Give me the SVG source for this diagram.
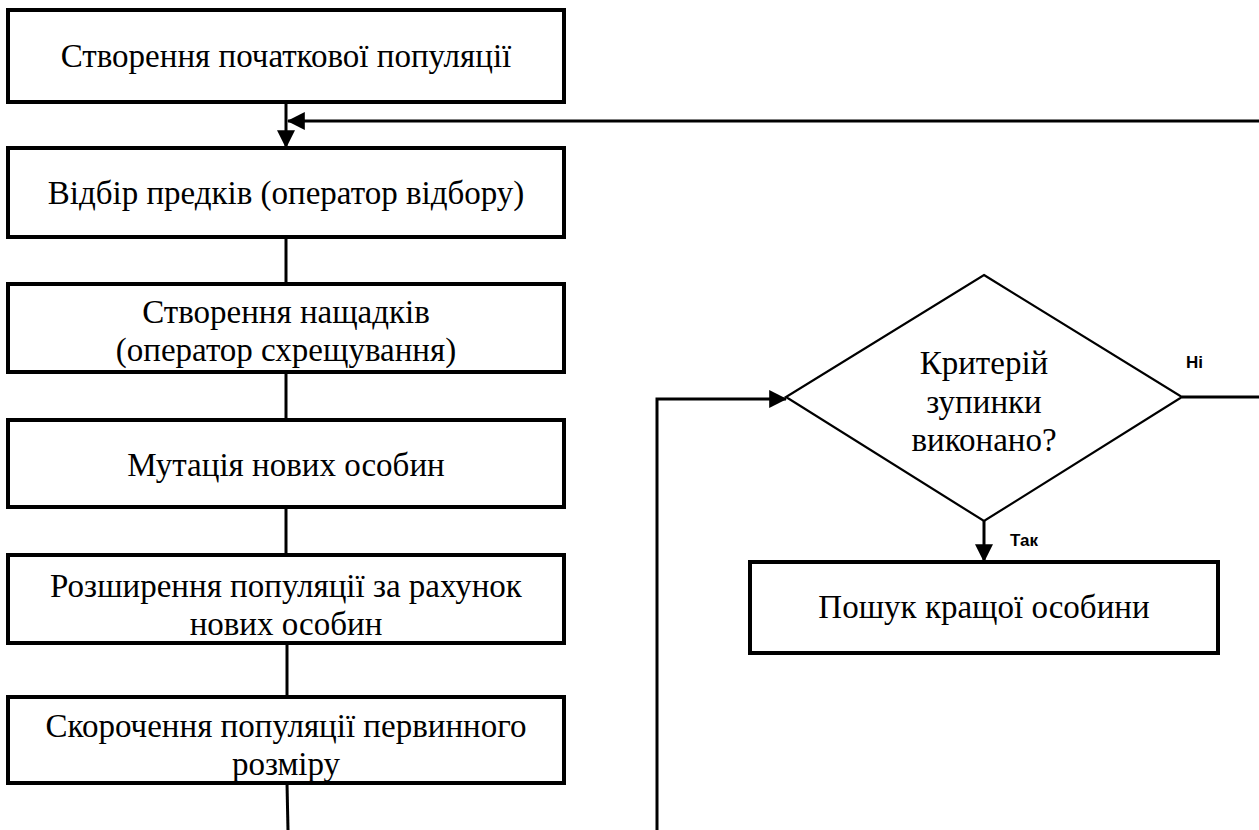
<svg xmlns="http://www.w3.org/2000/svg" width="1259" height="830" viewBox="0 0 1259 830">
<style>
.box{fill:#fff;stroke:#000;stroke-width:4}
.dia{fill:#fff;stroke:#000;stroke-width:2.2}
.t{font-family:"Liberation Serif","Times New Roman",serif;font-size:33px;fill:#000;text-anchor:middle}
.lbl{font-family:"Liberation Sans",Arial,sans-serif;font-size:17px;font-weight:bold;fill:#000}
.ln{fill:none;stroke:#000;stroke-width:3}
</style>
<defs>
<marker id="ah" markerWidth="6" markerHeight="6" refX="5.6" refY="3" orient="auto" markerUnits="strokeWidth" viewBox="0 0 6 6">
<path d="M0,0 L6,3 L0,6 Z" fill="#000"/>
</marker>
</defs>
<g id="connectors">
<line class="ln" x1="286" y1="102" x2="286" y2="147" marker-end="url(#ah)"/>
<line class="ln" x1="1262" y1="121" x2="288" y2="121" marker-end="url(#ah)"/>
<line class="ln" x1="286" y1="237" x2="286" y2="284"/>
<line class="ln" x1="286" y1="372" x2="286" y2="420"/>
<line class="ln" x1="286" y1="507" x2="286" y2="555"/>
<line class="ln" x1="287" y1="643" x2="287" y2="697"/>
<line class="ln" x1="287" y1="783" x2="288" y2="830"/>
<polyline class="ln" points="657,830 657,399 786,399" marker-end="url(#ah)"/>
<line class="ln" x1="1182" y1="397" x2="1262" y2="397"/>
<line class="ln" x1="984" y1="521" x2="984" y2="561" marker-end="url(#ah)"/>
<text class="lbl" x="1186" y="368">Ні</text>
<text class="lbl" x="1010" y="546">Так</text>
</g>
<g id="n1"><rect class="box" x="8" y="10" width="556" height="92"/><text class="t" x="286" y="67">Створення початкової популяції</text></g>
<g id="n2"><rect class="box" x="8" y="148" width="556" height="89"/><text class="t" x="286" y="204">Відбір предків (оператор відбору)</text></g>
<g id="n3"><rect class="box" x="8" y="284" width="556" height="88"/><text class="t" x="286" y="323">Створення нащадків</text><text class="t" x="286" y="361">(оператор схрещування)</text></g>
<g id="n4"><rect class="box" x="8" y="420" width="556" height="87"/><text class="t" x="286" y="476">Мутація нових особин</text></g>
<g id="n5"><rect class="box" x="8" y="555" width="556" height="88"/><text class="t" x="286" y="597">Розширення популяції за рахунок</text><text class="t" x="286" y="635">нових особин</text></g>
<g id="n6"><rect class="box" x="8" y="697" width="556" height="86"/><text class="t" x="286" y="737">Скорочення популяції первинного</text><text class="t" x="286" y="775">розміру</text></g>
<g id="n7"><polygon class="dia" points="984,275 1182,397 984,521 786,397"/><text class="t" x="984" y="374">Критерій</text><text class="t" x="984" y="413">зупинки</text><text class="t" x="984" y="451">виконано?</text></g>
<g id="n8"><rect class="box" x="750" y="562" width="468" height="91"/><text class="t" x="984" y="618">Пошук кращої особини</text></g>
</svg>
